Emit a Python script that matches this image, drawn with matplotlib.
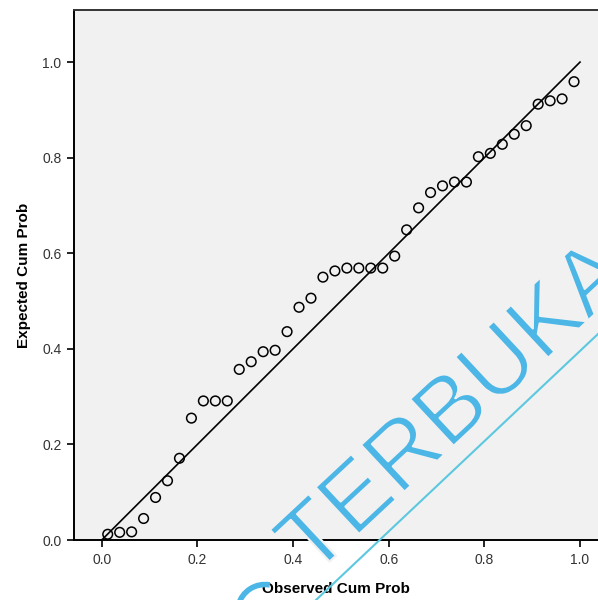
import matplotlib
matplotlib.use("Agg")
import matplotlib.pyplot as plt
import matplotlib.patheffects as pe
from matplotlib.patches import Arc

# Observed vs expected cumulative probabilities (P-P plot)
observed = [0.0125, 0.0375, 0.0625, 0.0875, 0.1125, 0.1375, 0.1625, 0.1875,
            0.2125, 0.2375, 0.2625, 0.2875, 0.3125, 0.3375, 0.3625, 0.3875,
            0.4125, 0.4375, 0.4625, 0.4875, 0.5125, 0.5375, 0.5625, 0.5875,
            0.6125, 0.6375, 0.6625, 0.6875, 0.7125, 0.7375, 0.7625, 0.7875,
            0.8125, 0.8375, 0.8625, 0.8875, 0.9125, 0.9375, 0.9625, 0.9875]
expected = [0.012, 0.016, 0.017, 0.045, 0.089, 0.124, 0.171, 0.255,
            0.291, 0.291, 0.291, 0.357, 0.373, 0.394, 0.397, 0.436,
            0.487, 0.506, 0.550, 0.563, 0.569, 0.569, 0.569, 0.569,
            0.594, 0.649, 0.695, 0.727, 0.741, 0.749, 0.749, 0.802,
            0.809, 0.828, 0.849, 0.867, 0.912, 0.919, 0.923, 0.959]
ticks = [0.0, 0.2, 0.4, 0.6, 0.8, 1.0]
tick_labels = ["0.0", "0.2", "0.4", "0.6", "0.8", "1.0"]

plt.rcParams["font.family"] = ["Liberation Sans", "DejaVu Sans"]

W, H = 598, 600
fig = plt.figure(figsize=(W / 100, H / 100), dpi=100)
fig.patch.set_facecolor("white")
panel = "#f1f1f1"
ax = fig.add_axes([74 / W, 60 / H, 1.0 - 74 / W, 530 / H])
ax.set_facecolor(panel)

ax.set_xlim(-0.058, 1.0376)
ax.set_ylim(0.0, 1.109)

# reference diagonal
ax.plot([0, 1], [0, 1], color="black", lw=1.2, zorder=2)
ax.scatter(observed, expected, s=48, facecolors="none", edgecolors="black",
           linewidths=1.1, zorder=3)

ax.set_xticks(ticks)
ax.set_xticklabels(tick_labels)
ax.set_yticks(ticks)
ax.set_yticklabels(tick_labels)
ax.tick_params(direction="out", length=5, width=1.2, color="black",
               labelsize=10, labelcolor="#333333", pad=4)

for side in ("left", "bottom"):
    ax.spines[side].set_linewidth(1.4)
    ax.spines[side].set_color("black")
ax.spines["top"].set_linewidth(1.4)
ax.spines["top"].set_color("#333333")
ax.spines["right"].set_visible(False)

ax.set_xlabel("Observed Cum Prob", fontsize=11, fontweight="bold", labelpad=11)
ax.set_ylabel("Expected Cum Prob", fontsize=11, fontweight="bold", labelpad=8)

# watermark
blue = "#4cb6e6"
fig.text(312 / W, 1 - 578 / H, "TERBUKA", fontsize=67, color=blue,
         rotation=43, rotation_mode="anchor", ha="left", va="baseline",
         path_effects=[pe.Normal(),
                       pe.Stroke(linewidth=1.6, foreground=panel)],
         zorder=10)
fig.add_artist(plt.Line2D([316 / W, 1.0], [0.0, 1 - 334 / H],
                          color="#5cc8e0", lw=1.5, zorder=10))
fig.add_artist(Arc((265 / W, 1 - 612 / H), 55 / W, 55 / H, theta1=80,
                   theta2=165, color=blue, lw=4, zorder=10))

fig.savefig("out.png", dpi=100)
